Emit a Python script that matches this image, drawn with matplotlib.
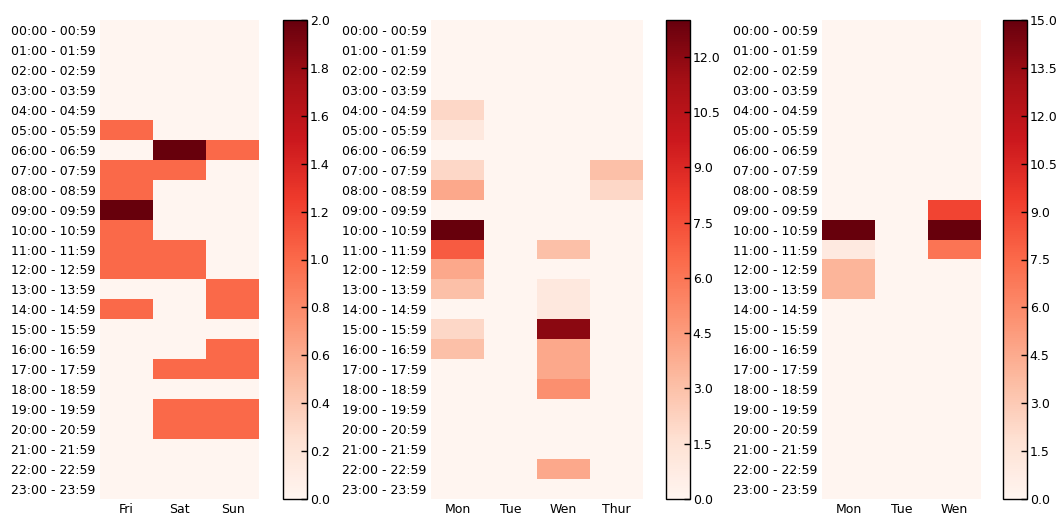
import numpy as np
import matplotlib
matplotlib.use('Agg')
import matplotlib.pyplot as plt
from matplotlib.ticker import FormatStrFormatter

# Etichette orari
hours = ['%02d:00 - %02d:59' % (h, h) for h in range(24)]

# Pannello 1: Fri / Sat / Sun
days1 = ['Fri', 'Sat', 'Sun']
fri = [0, 0, 0, 0, 0, 1, 0, 1, 1, 2, 1, 1, 1, 0, 1, 0, 0, 0, 0, 0, 0, 0, 0, 0]
sat = [0, 0, 0, 0, 0, 0, 2, 1, 0, 0, 0, 1, 1, 0, 0, 0, 0, 1, 0, 1, 1, 0, 0, 0]
sun = [0, 0, 0, 0, 0, 0, 1, 0, 0, 0, 0, 0, 0, 1, 1, 0, 1, 1, 0, 1, 1, 0, 0, 0]

# Pannello 2: Mon / Tue / Wen / Thur
days2 = ['Mon', 'Tue', 'Wen', 'Thur']
mon2 = [0, 0, 0, 0, 2, 1, 0, 2, 4, 0, 13, 7, 4, 3, 0, 2, 3, 0, 0, 0, 0, 0, 0, 0]
tue2 = [0] * 24
wen2 = [0, 0, 0, 0, 0, 0, 0, 0, 0, 0, 0, 3, 0, 1, 1, 12, 4, 4, 5, 0, 0, 0, 4, 0]
thu2 = [0, 0, 0, 0, 0, 0, 0, 3, 2, 0, 0, 0, 0, 0, 0, 0, 0, 0, 0, 0, 0, 0, 0, 0]

# Pannello 3: Mon / Tue / Wen
days3 = ['Mon', 'Tue', 'Wen']
mon3 = [0, 0, 0, 0, 0, 0, 0, 0, 0, 0, 15, 1, 4, 4, 0, 0, 0, 0, 0, 0, 0, 0, 0, 0]
tue3 = [0] * 24
wen3 = [0, 0, 0, 0, 0, 0, 0, 0, 0, 9, 15, 7, 0, 0, 0, 0, 0, 0, 0, 0, 0, 0, 0, 0]

panels = [
    (days1, [fri, sat, sun], 2.0, 0.2),
    (days2, [mon2, tue2, wen2, thu2], 13.0, 1.5),
    (days3, [mon3, tue3, wen3], 15.0, 1.5),
]

W, H = 1061., 516.
# posizioni in pixel: (x0 heatmap, x0 colorbar)
heat_x = [100, 431, 822]
cbar_x = [283, 666, 1003]
cell_w = 53.
y_top, y_bot = 20., 499.

fig = plt.figure(figsize=(W / 100, H / 100), dpi=100)

for (days, cols, vmax, step), hx, cx in zip(panels, heat_x, cbar_x):
    data = np.array(cols).T
    ax = fig.add_axes([hx / W, 1 - y_bot / H, cell_w * len(days) / W, (y_bot - y_top) / H])
    im = ax.imshow(data, cmap='Reds', vmin=0, vmax=vmax, aspect='auto',
                   interpolation='nearest')
    ax.set_yticks(range(24))
    ax.set_yticklabels(hours, fontsize=9)
    ax.set_xticks(range(len(days)))
    ax.set_xticklabels(days, fontsize=9)
    ax.tick_params(length=0, pad=3)
    for s in ax.spines.values():
        s.set_visible(False)

    cax = fig.add_axes([cx / W, 1 - y_bot / H, 24 / W, (y_bot - y_top) / H])
    cb = fig.colorbar(im, cax=cax, ticks=np.arange(0, vmax + 1e-6, step))
    cb.ax.yaxis.set_major_formatter(FormatStrFormatter('%.1f'))
    cb.ax.tick_params(direction='in', length=4, width=1, labelsize=9, pad=2)
    cb.outline.set_linewidth(1)
    cb.outline.set_edgecolor('black')

fig.savefig('out.png', dpi=100)
